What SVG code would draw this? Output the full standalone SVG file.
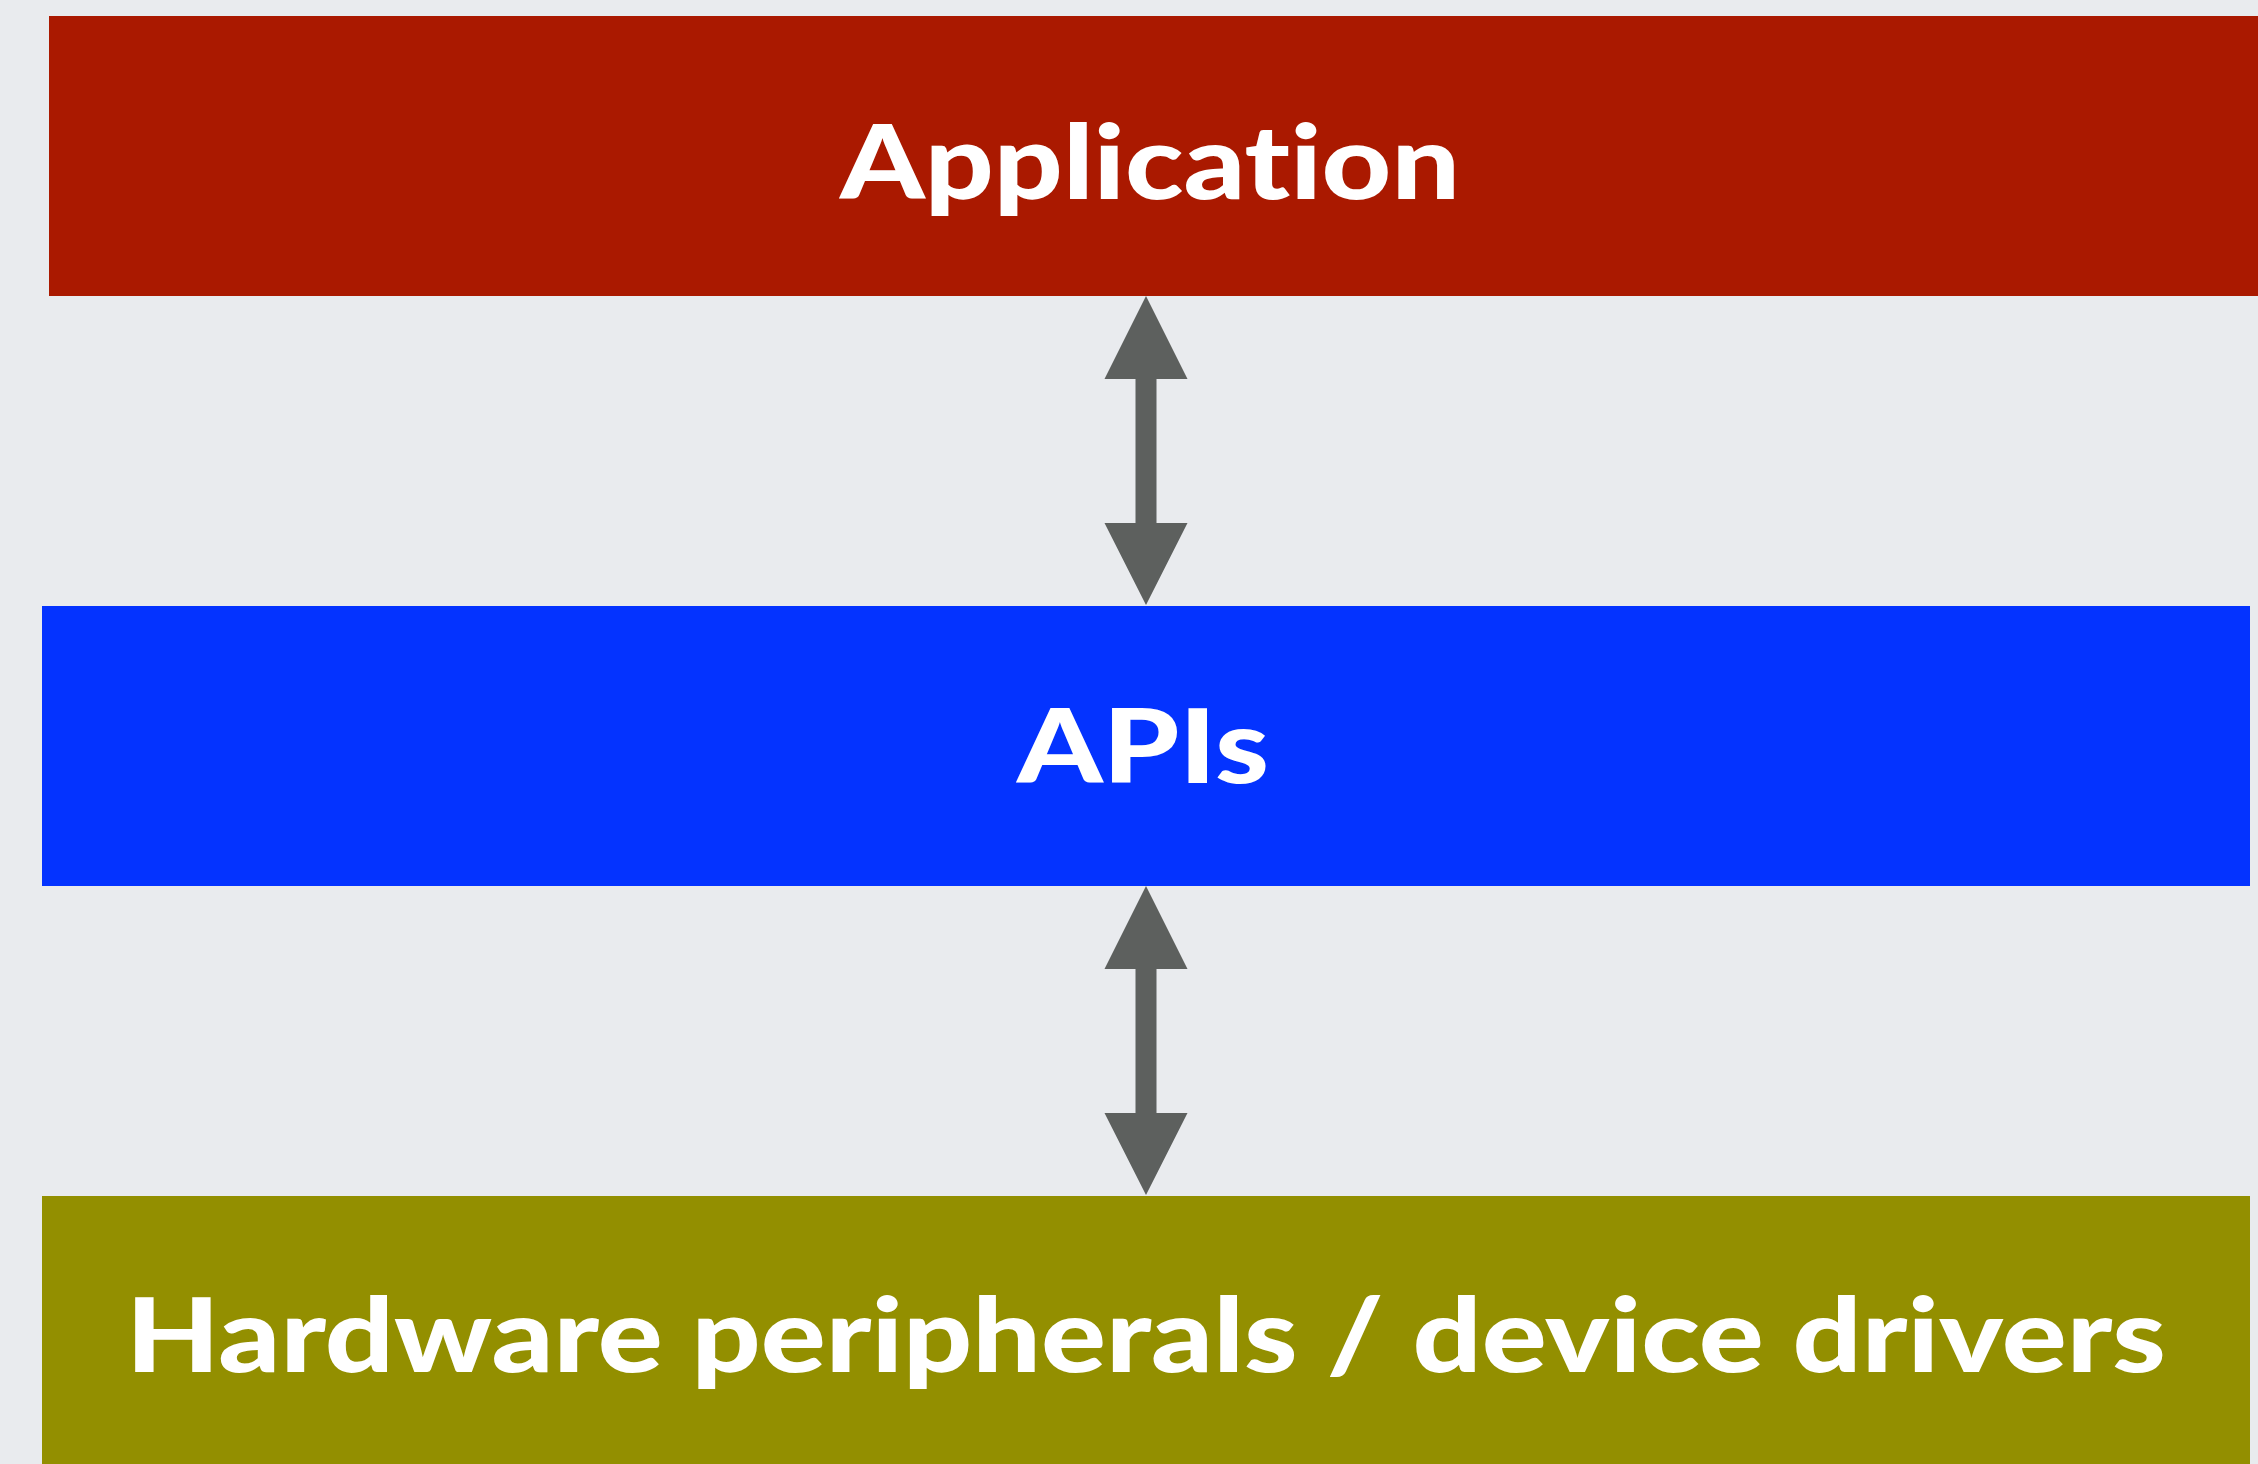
<svg xmlns="http://www.w3.org/2000/svg" width="2258" height="1464" viewBox="0 0 2258 1464">
  <style>
    .label { font-family: "Lato", "Liberation Sans", "DejaVu Sans", sans-serif; font-weight: 900; font-size: 102px; fill: #ffffff; text-anchor: middle; font-variant-ligatures: none; font-feature-settings: "liga" 0, "clig" 0; }
    .arrow { fill: #5d605e; }
  </style>
  <rect x="0" y="0" width="2258" height="1464" fill="#e9ebee"/>
  <g id="node-application">
    <rect x="49" y="16" width="2209" height="280" fill="#aa1900"/>
    <text class="label" x="1150" y="199" textLength="620" lengthAdjust="spacingAndGlyphs">Application</text>
  </g>
  <g id="node-apis">
    <rect x="42" y="606" width="2208" height="280" fill="#0433ff"/>
    <text class="label" x="1143" y="783" textLength="252" lengthAdjust="spacingAndGlyphs">APIs</text>
  </g>
  <g id="node-hardware">
    <rect x="42" y="1196" width="2208" height="268" fill="#938f00"/>
    <text class="label" x="1146" y="1372" textLength="2040" lengthAdjust="spacingAndGlyphs">Hardware peripherals / device drivers</text>
  </g>
  <g id="connectors">
    <polygon class="arrow" points="1146,296 1187.5,379 1156.5,379 1156.5,523 1187.5,523 1146,605 1104.5,523 1135.5,523 1135.5,379 1104.5,379"/>
    <polygon class="arrow" points="1146,886 1187.5,969 1156.5,969 1156.5,1113 1187.5,1113 1146,1195 1104.5,1113 1135.5,1113 1135.5,969 1104.5,969"/>
  </g>
</svg>
